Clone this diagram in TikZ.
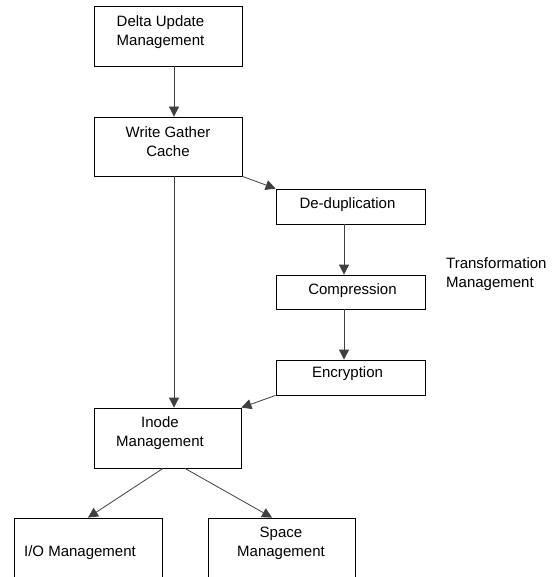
\documentclass[tikz,border=0pt]{standalone}
\usepackage{fontspec}
\setmainfont{Liberation Sans}
\usetikzlibrary{arrows.meta}
\begin{document}
\begin{tikzpicture}[x=1pt,y=-1pt,
  box/.style={draw=black,line width=0.8pt,minimum width=148pt,minimum height=60pt,inner sep=0pt},
  sbox/.style={draw=black,line width=0.8pt,minimum width=149pt,minimum height=35pt,inner sep=0pt},
  lbl/.style={font=\fontsize{15pt}{19pt}\selectfont,align=center,inner sep=0pt},
  arr/.style={draw=black!75,line width=0.8pt,-{Triangle[length=10pt,width=10pt]}}]
\useasboundingbox (0,0) rectangle (552,577);
\clip (0,0) rectangle (552,577);
% boxes
\node[box] (delta) at (168,36) {};
\node[box,minimum height=59pt] (wgc) at (168,146.5) {};
\node[sbox] (dedup) at (350.5,206.5) {};
\node[sbox,minimum height=34pt] (comp) at (350.5,292) {};
\node[sbox] (encr) at (350.5,377.5) {};
\node[box,minimum width=147pt] (inode) at (167.5,438) {};
\node[box] (io) at (88,548) {};
\node[box,minimum width=147pt] (space) at (281.5,548) {};
% texts
\node[lbl] (deltat) at (160.5,32) {Delta Update\\Management};
\node[lbl] (wgct) at (168,141.5) {Write Gather\\Cache};
\node[lbl] (dedupt) at (347.5,205) {De-duplication};
\node[lbl] (compt) at (352.5,290.5) {Compression};
\node[lbl] (encrt) at (347.5,373.5) {Encryption};
\node[lbl] (inodet) at (160,433) {Inode\\Management};
\node[lbl] (iot) at (80,553) {I/O Management};
\node[lbl] (spacet) at (281,543.5) {Space\\Management};
\node[lbl,align=left,anchor=west] (transt) at (446,274) {Transformation\\Management};
% connectors
\draw[arr] ([xshift=6pt]delta.south) -- ([xshift=6pt]wgc.north);
\draw[arr] (wgc.south east) -- (dedup.north west);
\draw[arr] ([xshift=-6.5pt]dedup.south) -- ([xshift=-6.5pt]comp.north);
\draw[arr] ([xshift=-6.5pt]comp.south) -- ([xshift=-6.5pt]encr.north);
\draw[arr] ([xshift=6pt]wgc.south) -- ([xshift=6.5pt]inode.north);
\draw[arr] (encr.south west) -- (inode.north east);
\draw[arr] ([xshift=-4.5pt]inode.south) -- (io.north);
\draw[arr] ([xshift=17.5pt]inode.south) -- ([xshift=-9.5pt]space.north);
\end{tikzpicture}
\end{document}
